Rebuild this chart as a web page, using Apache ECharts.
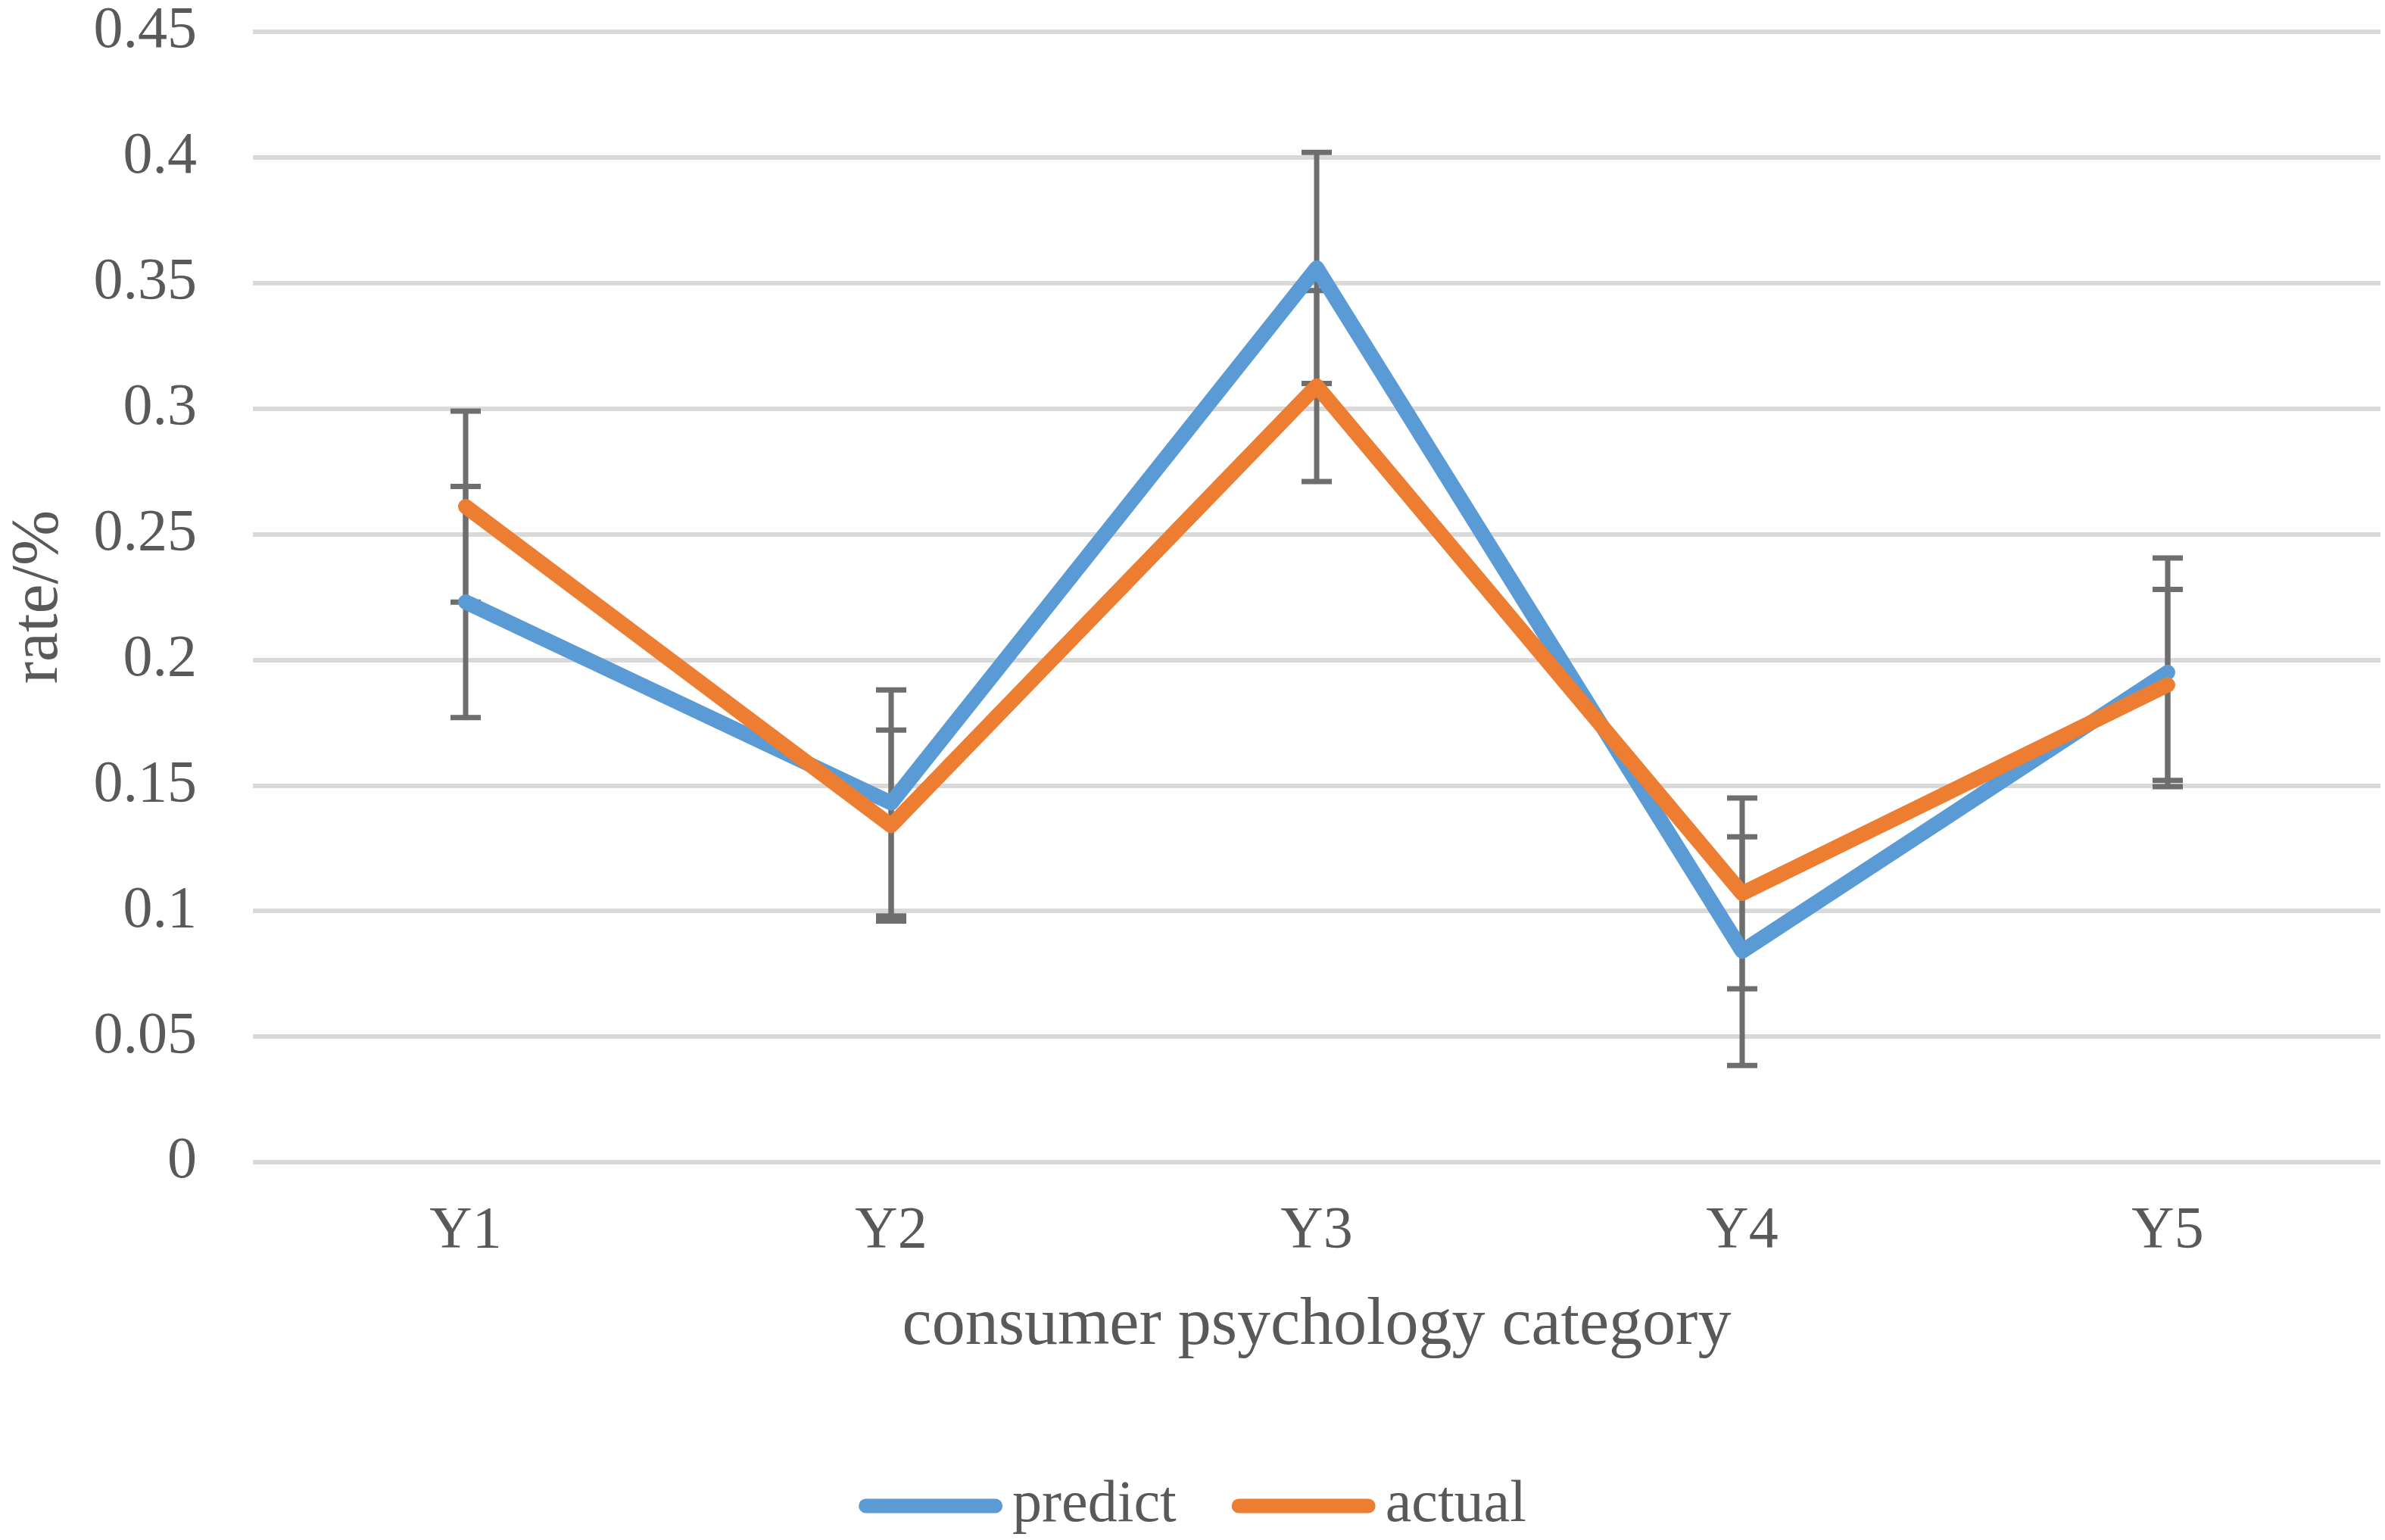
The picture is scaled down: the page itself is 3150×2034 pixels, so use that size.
<!DOCTYPE html>
<html>
<head>
<meta charset="utf-8">
<title>rate by consumer psychology category</title>
<script src="https://cdn.jsdelivr.net/npm/echarts@6/dist/echarts.min.js"></script>
<style>
    html, body { margin:0; padding:0; background:#fff; }
    #main { width:3150px; height:2034px; }
</style>
</head>
<body>
<div id="main"></div>
<script>
    // categories and values
    var categories = ['Y1', 'Y2', 'Y3', 'Y4', 'Y5'];
    var predict = [0.223, 0.143, 0.356, 0.084, 0.195];
    var actual = [0.261, 0.134, 0.309, 0.107, 0.190];
    // error bar half-lengths
    var predictErr = [0.046, 0.045, 0.046, 0.0455, 0.0455];
    var actualErr = [0.038, 0.038, 0.038, 0.038, 0.038];
    var yTicks = { min: 0, max: 0.45, step: 0.05 };

    var textGrey = '#595959';
    var font = 'Liberation Serif';

    function errData(vals, errs) {
        var out = [];
        for (var i = 0; i < vals.length; i++) {
            out.push([i, vals[i] - errs[i], vals[i] + errs[i]]);
        }
        return out;
    }

    function renderErr(params, api) {
        var lo = api.coord([api.value(0), api.value(1)]);
        var hi = api.coord([api.value(0), api.value(2)]);
        var half = 20;
        var st = { stroke: '#6e6e6e', lineWidth: 7 };
        return {
            type: 'group',
            children: [
                { type: 'line', shape: { x1: lo[0], y1: lo[1], x2: hi[0], y2: hi[1] }, style: st },
                { type: 'line', shape: { x1: hi[0] - half, y1: hi[1], x2: hi[0] + half, y2: hi[1] }, style: st },
                { type: 'line', shape: { x1: lo[0] - half, y1: lo[1], x2: lo[0] + half, y2: lo[1] }, style: st }
            ]
        };
    }

    // pill shaped legend mark, 10:1 like the original
    var pill = 'path://M10,0 L190,0 A10,10 0 0 1 190,20 L10,20 A10,10 0 0 1 10,0 Z';

    var chart = echarts.init(document.getElementById('main'));
    var option = {
        animation: false,
        backgroundColor: '#ffffff',
        textStyle: { fontFamily: font, color: textGrey },
        grid: { left: 329, right: 6, top: 42, bottom: 499, containLabel: false },
        legend: {
            data: [
                { name: 'predict', icon: pill },
                { name: 'actual', icon: pill }
            ],
            left: 'center',
            top: 1945,
            itemWidth: 190,
            itemHeight: 19,
            itemGap: 73,
            textStyle: { fontFamily: font, fontSize: 78, color: textGrey, padding: [0, 0, 0, 8] }
        },
        xAxis: {
            type: 'category',
            data: categories,
            boundaryGap: true,
            name: 'consumer psychology category',
            nameLocation: 'middle',
            nameGap: 173,
            nameTextStyle: { fontFamily: font, fontSize: 88, color: textGrey },
            axisLine: { show: false },
            axisTick: { show: false },
            axisLabel: { fontFamily: font, fontSize: 78, color: textGrey, margin: 53 }
        },
        yAxis: {
            type: 'value',
            min: yTicks.min,
            max: yTicks.max,
            interval: yTicks.step,
            name: 'rate/%',
            nameLocation: 'middle',
            nameGap: 238,
            nameTextStyle: { fontFamily: font, fontSize: 88, color: textGrey },
            axisLine: { show: false },
            axisTick: { show: false },
            axisLabel: { fontFamily: font, fontSize: 78, color: textGrey, margin: 74 },
            splitLine: { lineStyle: { color: '#d9d9d9', width: 6 } }
        },
        series: [
            {
                name: 'predict-err',
                type: 'custom',
                renderItem: renderErr,
                encode: { x: 0, y: [1, 2] },
                data: errData(predict, predictErr),
                silent: true,
                z: 1
            },
            {
                name: 'actual-err',
                type: 'custom',
                renderItem: renderErr,
                encode: { x: 0, y: [1, 2] },
                data: errData(actual, actualErr),
                silent: true,
                z: 1
            },
            {
                name: 'predict',
                type: 'line',
                data: predict,
                symbol: 'none',
                color: '#5b9bd5',
                lineStyle: { color: '#5b9bd5', width: 20, cap: 'round', join: 'round' },
                z: 3
            },
            {
                name: 'actual',
                type: 'line',
                data: actual,
                symbol: 'none',
                color: '#ed7d31',
                lineStyle: { color: '#ed7d31', width: 20, cap: 'round', join: 'round' },
                z: 4
            }
        ]
    };
    chart.setOption(option);
</script>
</body>
</html>
